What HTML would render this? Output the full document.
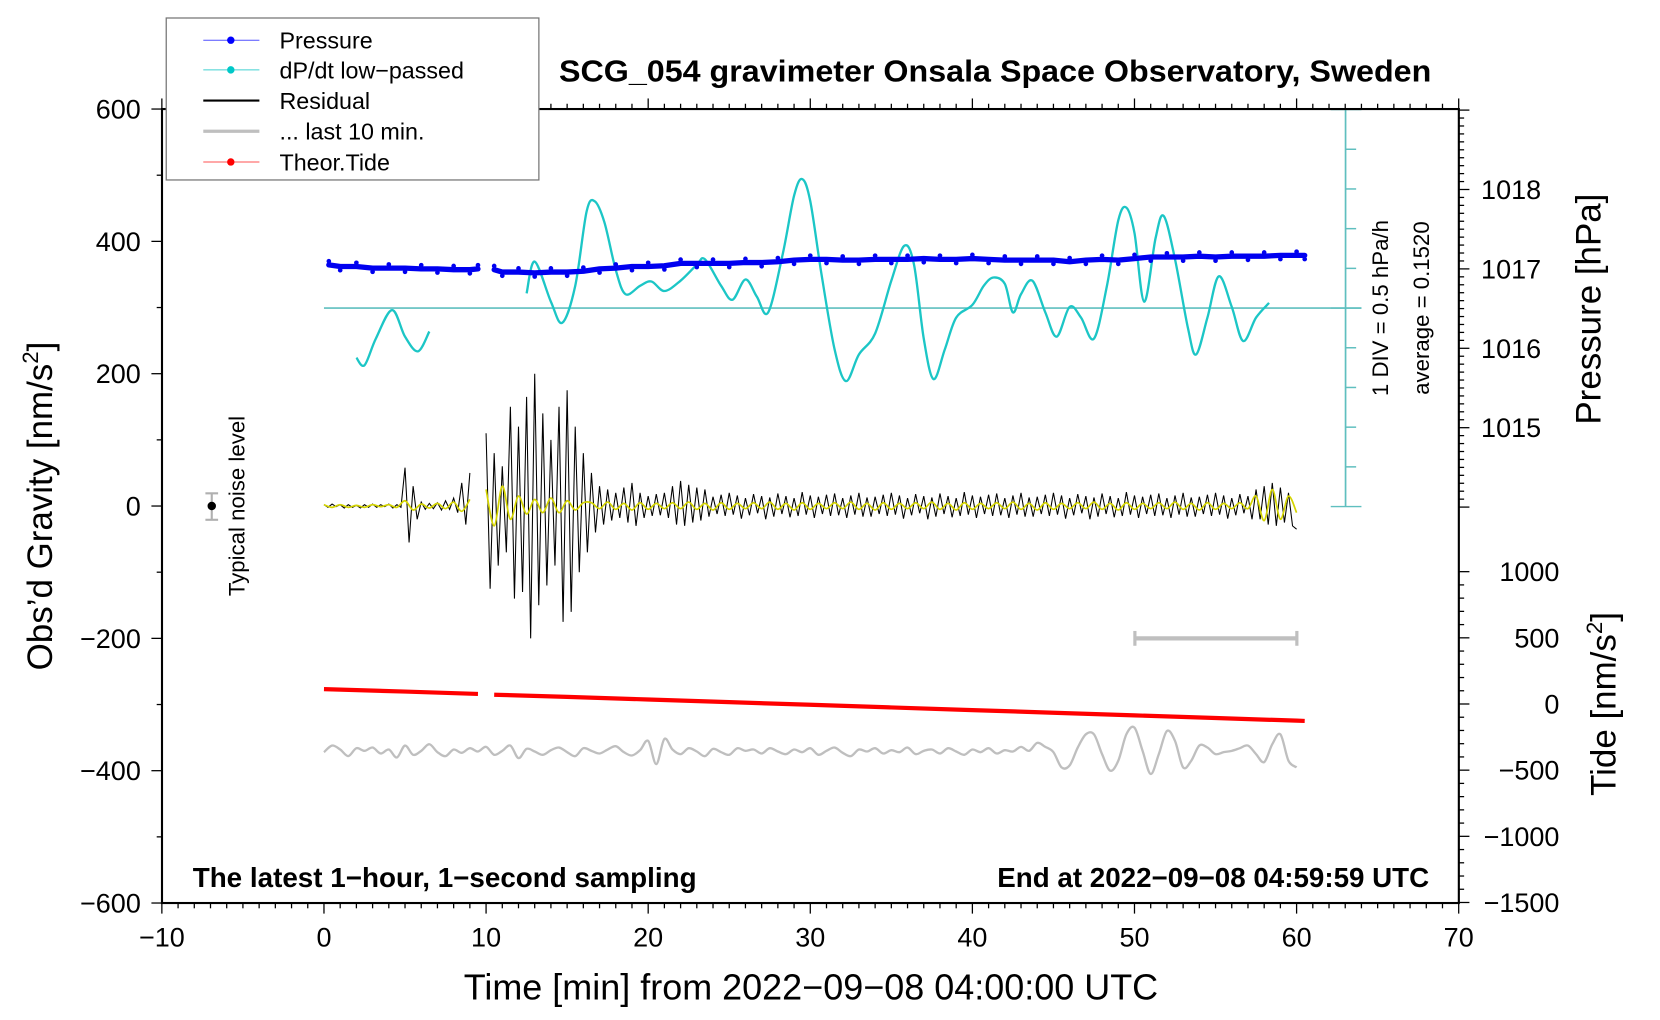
<!DOCTYPE html>
<html><head><meta charset="utf-8"><style>
html,body{margin:0;padding:0;background:#fff;}
svg{display:block;font-family:"Liberation Sans",Arial,sans-serif;}
</style></head><body>
<svg id="chart" xmlns="http://www.w3.org/2000/svg" width="1660" height="1020" viewBox="0 0 1568 963.5">
<rect x="0" y="0" width="1568" height="963.5" fill="#fff"/>
<g id="marks"></g>
<g id="axes"></g>
</svg>
<script>
// ---- data ----
const pressureTimes1 = [0.3,1,2,3,4,5,6,7,8,9,9.5];
const pressureValues1 = [1017.05,1017.03,1017.03,1017.01,1017.01,1017.01,1017.00,1017.00,1016.99,1016.99,1017.00];
const pressureTimes2 = [10.5,11,12,13,14,15,16,17,18,19,20,21,22,23,24,25,26,27,28,29,30,31,32,33,34,35,36,37,38,39,40,41,42,43,44,45,46,47,48,49,50,51,52,53,54,55,56,57,58,59,60,60.5];
const pressureValues2 = [1016.99,1016.96,1016.96,1016.95,1016.96,1016.96,1016.97,1017.00,1017.01,1017.03,1017.03,1017.04,1017.07,1017.07,1017.07,1017.07,1017.08,1017.08,1017.09,1017.11,1017.12,1017.12,1017.11,1017.11,1017.12,1017.12,1017.12,1017.13,1017.12,1017.12,1017.13,1017.12,1017.11,1017.11,1017.11,1017.11,1017.09,1017.11,1017.12,1017.11,1017.13,1017.15,1017.15,1017.15,1017.16,1017.15,1017.16,1017.16,1017.16,1017.17,1017.17,1017.17];
const dpdtTimes1 = [2.0,2.5,3.2,4.2,5.0,5.8,6.5];
const dpdtDiv1 = [-1.25,-1.44,-0.77,-0.05,-0.72,-1.09,-0.59];
const dpdtTimes2 = [12.5,13.0,14.0,14.7,15.5,16.2,16.7,17.3,18.0,18.6,19.5,20.2,21.0,22.0,23.0,23.5,24.5,25.2,26.0,26.7,27.4,28.3,29.0,29.5,30.0,30.7,31.5,32.2,33.0,34.0,35.0,35.8,36.4,37.0,37.6,38.3,39.0,40.0,40.7,41.3,42.0,42.5,43.0,43.7,44.5,45.2,46.0,46.7,47.5,48.3,49.0,49.5,50.0,50.6,51.3,51.8,52.5,53.3,53.8,54.5,55.2,56.0,56.7,57.5,58.3];
const dpdtDiv2 = [0.37,1.17,0.16,-0.37,0.56,2.43,2.69,2.16,0.96,0.35,0.56,0.67,0.43,0.69,1.09,1.23,0.56,0.21,0.72,0.29,-0.11,1.36,2.83,3.25,2.69,0.83,-1.04,-1.84,-1.17,-0.64,0.69,1.57,1.09,-0.77,-1.79,-1.04,-0.24,0.08,0.56,0.77,0.61,-0.11,0.35,0.69,-0.11,-0.72,0.03,-0.24,-0.77,0.56,2.21,2.53,1.89,0.16,1.76,2.32,1.23,-0.51,-1.17,-0.24,0.80,0.03,-0.83,-0.24,0.13];
// residual sampled every 0.25 min from 0 to 60 (null = gap)
const residual = [2,-2,3,-1,2,-3,2,-2,1,-3,2,-2,3,-2,2,-1,3,-3,2,-2,
58,-55,30,-20,
6,-5,4,-4,5,-6,8,-5,12,-10,
35,-28,50,
null,null,null,
110,-125,80,-90,60,-70,150,-140,120,-130,165,-200,200,-150,140,-120,100,-90,150,-175,175,-160,120,-100,80,-70,50,-40,
30,-28,25,-22,20,-18,28,-25,
35,-30,20,-18,15,-15,18,-14,20,-18,
30,-28,38,-30,32,-25,28,-22,25,
-16,14,-12,17,-15,20,-13,16,-19,12,-14,18,-11,15,-20,13,-16,19,-12,15,-17,12,-15,21,-13,16,-18,14,-12,17,-15,19,-14,12,-18,16,-13,20,-16,13,
-16,14,-12,17,-15,20,-13,16,-19,12,-14,18,-11,15,-20,13,-16,19,-12,15,-17,12,-15,21,-13,16,-18,14,-12,17,-15,19,-14,12,-18,16,-13,20,-16,13,
-16,14,-12,17,-15,20,-13,16,-19,12,-14,18,-11,15,-20,13,-16,19,-12,15,-17,12,-15,21,-13,16,-18,14,-12,17,-15,19,-14,12,-18,16,-13,20,-16,13,
-16,14,-12,17,-15,20,-13,16,-19,12,-14,18,-11,15,-20,
25,-20,30,-28,35,-30,28,-25,20,-30,-35];
// filtered (yellow) every 0.5 min
const filtered = [2,-2,2,-2,1,-2,2,-1,2,-2,
8,-6,
3,-3,4,-4,6,-8,10,
null,
25,-30,30,-20,
15,-12,10,-10,12,-10,8,-6,5,
5,-4,6,-5,4,-6,5,-5,4,-4,5,-4,6,-5,4,-6,5,-5,4,-4,5,-4,6,-5,4,-6,5,-5,4,-4,5,-4,6,-5,4,-6,5,-5,4,-4,
5,-4,6,-5,4,-6,5,-5,4,-4,5,-4,6,-5,4,-6,5,-5,4,-4,5,-4,6,-5,4,-6,5,-5,4,-4,5,-4,6,-5,4,-6,5,-5,4,-4,
5,-4,
15,-22,25,-20,15,-10];
// last 10 minutes (stretched to 0..60), every 0.5 min, nm/s^2
const last10 = [-372,-362,-368,-378,-366,-370,-365,-374,-368,-380,-362,-376,-370,-360,-372,-378,-368,-373,-366,-371,
-364,-376,-370,-362,-381,-367,-371,-376,-369,-365,-372,-378,-366,-370,-374,-368,-363,-372,-377,-369,
-355,-390,-352,-368,-375,-366,-371,-378,-367,-372,-376,-366,-370,-368,-374,-366,-371,-375,-368,-372,
-366,-376,-370,-365,-373,-378,-368,-371,-366,-374,-369,-372,-365,-375,-370,-368,-374,-366,-371,-376,
-368,-372,-366,-374,-369,-371,-364,-370,
-358,-364,-372,-395,-392,-365,-345,-345,-375,-400,-385,-345,-335,-370,-405,-375,-340,-355,-395,-385,-362,-365,-375,-372,-370,-366,-362,-375,-387,-360,-345,-385,-395];
const tideTimes1 = [0,5,9.5];
const tideValues1 = [112,94,76];
const tideTimes2 = [10.5,15,20,25,30,35,40,45,50,55,60,60.5];
const tideValues2 = [70,54,34,14,-6,-26,-46,-66,-86,-106,-126,-128];
const xTicks = [-10,0,10,20,30,40,50,60,70];
const yTicks = [-600,-400,-200,0,200,400,600];
const pTicks = [1015,1016,1017,1018];
const tTicks = [-1500,-1000,-500,0,500,1000];

// ---- scales ----
const X = m => 306 + m*15.3125;
const YL = v => 478 - v*0.625;
const YP = p => 254 - (p-1017)*75;
const YT = t => 665 - t*0.125;
const YD = d => 291 - d*37.5;
const NS = "http://www.w3.org/2000/svg";
const marks = document.getElementById('marks');
const axes = document.getElementById('axes');
function mk(tag, attrs, parent, text){
  const e = document.createElementNS(NS, tag);
  for (const k in attrs) e.setAttribute(k, attrs[k]);
  if (text !== undefined) e.textContent = text;
  parent.appendChild(e);
  return e;
}
function smooth(pts){
  let d = `M${pts[0][0]},${pts[0][1]}`;
  for (let i=0;i<pts.length-1;i++){
    const p0=pts[Math.max(0,i-1)], p1=pts[i], p2=pts[i+1], p3=pts[Math.min(pts.length-1,i+2)];
    const c1=[p1[0]+(p2[0]-p0[0])/6, p1[1]+(p2[1]-p0[1])/6];
    const c2=[p2[0]-(p3[0]-p1[0])/6, p2[1]-(p3[1]-p1[1])/6];
    d += ` C${c1[0]},${c1[1]} ${c2[0]},${c2[1]} ${p2[0]},${p2[1]}`;
  }
  return d;
}
function segPaths(values, step, yf){
  const segs=[]; let cur=[];
  values.forEach((v,i)=>{ if(v===null){ if(cur.length) segs.push(cur); cur=[]; } else cur.push([X(i*step), yf(v)]); });
  if(cur.length) segs.push(cur);
  return segs;
}

// cyan DIV axis
const divAxis = mk('g', {}, marks);


mk('line', {x1:X(0), y1:291, x2:1286, y2:291, stroke:'#5fbfbf', 'stroke-width':1.6}, divAxis);
mk('line', {x1:1271, y1:103, x2:1271, y2:478, stroke:'#5fbfbf', 'stroke-width':1.6}, divAxis);
for (let d=-5; d<=5; d++){
  const major = (d===-5||d===0||d===5);
  mk('line', {x1: major?1257:1271, y1:YD(d), x2: major?1286:1281, y2:YD(d), stroke:'#5fbfbf', 'stroke-width':1.4}, divAxis);
}
mk('text', {x:0, y:0, transform:'translate(1311,291) rotate(-90)', 'text-anchor':'middle', 'font-size':21}, divAxis, '1 DIV = 0.5 hPa/h');
mk('text', {x:0, y:0, transform:'translate(1350,291) rotate(-90)', 'text-anchor':'middle', 'font-size':21}, divAxis, 'average = 0.1520');

// dP/dt curve
[[dpdtTimes1,dpdtDiv1],[dpdtTimes2,dpdtDiv2]].forEach(([t,v])=>{
  const p = mk('path', {d: smooth(t.map((m,i)=>[X(m), YD(v[i])])), fill:'none', stroke:'#1cc6c6', 'stroke-width':2.2}, marks);
  
  
});

// pressure
[[pressureTimes1,pressureValues1],[pressureTimes2,pressureValues2]].forEach(([t,v])=>{
  const pl = mk('polyline', {points: t.map((m,i)=>`${X(m)},${YP(v[i])}`).join(' '), fill:'none', stroke:'#0000f0', 'stroke-width':5, 'stroke-linejoin':'round', 'stroke-linecap':'round'}, marks);
  
  
  t.forEach((m,i)=>{
    const c = mk('circle', {cx:X(m), cy:YP(v[i])+((i%2)?3.5:-3.5), r:2.2, fill:'#0000f0'}, marks);
    
    
  });
});

// residual (black)
segPaths(residual, 0.25, YL).forEach(seg=>{
  const pl = mk('polyline', {points: seg.map(p=>p.join(',')).join(' '), fill:'none', stroke:'#000', 'stroke-width':1.0}, marks);
  
  
});
// filtered (yellow)
segPaths(filtered, 0.5, YL).forEach(seg=>{
  const pl = mk('path', {d: smooth(seg), fill:'none', stroke:'#d4d400', 'stroke-width':1.6}, marks);
  
  
});
// last 10 min (gray)
segPaths(last10, 0.5, YL).forEach(seg=>{
  const pl = mk('path', {d: smooth(seg), fill:'none', stroke:'#bfbfbf', 'stroke-width':2.2}, marks);
  
  
});
// tide
[[tideTimes1,tideValues1],[tideTimes2,tideValues2]].forEach(([t,v])=>{
  const pl = mk('polyline', {points: t.map((m,i)=>`${X(m)},${YT(v[i])}`).join(' '), fill:'none', stroke:'#ff0000', 'stroke-width':4}, marks);
  
  
});

// ---- axes ----
mk('rect', {x:153, y:103, width:1225, height:750, fill:'none', stroke:'#000', 'stroke-width':2}, axes);
for (let m=-10; m<=70; m++){
  const major = m%10===0, L = major?10:5;
  mk('line', {x1:X(m), y1:853, x2:X(m), y2:853+L, stroke:'#000', 'stroke-width':1.2}, axes);
  mk('line', {x1:X(m), y1:103, x2:X(m), y2:103-L, stroke:'#000', 'stroke-width':1.2}, axes);
}
xTicks.forEach(m=>{
  const t = mk('text', {x:X(m), y:894, 'text-anchor':'middle', 'font-size':25.5}, axes, String(m).replace('-', '\u2212'));
  
  
});
for (let v=-600; v<=600; v+=100){
  const L = v%200===0?10:5;
  mk('line', {x1:153-L, y1:YL(v), x2:153, y2:YL(v), stroke:'#000', 'stroke-width':1.2}, axes);
}
yTicks.forEach(v=>{
  const t = mk('text', {x:133, y:YL(v)+9, 'text-anchor':'end', 'font-size':25.5}, axes, String(v).replace('-', '\u2212'));
  
  
});
for (let i=0; i<=50; i++){
  const p = 1014 + i*0.1, L = (i%10===0)?10:5;
  mk('line', {x1:1378, y1:YP(p), x2:1378+L, y2:YP(p), stroke:'#000', 'stroke-width':1.2}, axes);
}
pTicks.forEach(p=>{
  const t = mk('text', {x:1399, y:YP(p)+9, 'font-size':25.5}, axes, String(p));
  
  
});
for (let v=-1500; v<=1000; v+=100){
  const L = v%500===0?10:5;
  mk('line', {x1:1378, y1:YT(v), x2:1378+L, y2:YT(v), stroke:'#000', 'stroke-width':1.2}, axes);
}
tTicks.forEach(v=>{
  const t = mk('text', {x:1473, y:YT(v)+9, 'text-anchor':'end', 'font-size':25.5}, axes, String(v).replace('-', '\u2212'));
  
  
});
</script>
<script>
// static annotations
(function(){
  const svg = document.getElementById('chart');
  svg.insertAdjacentHTML('beforeend', `
  <text x="528" y="77" font-size="29" font-weight="bold" textLength="824" lengthAdjust="spacingAndGlyphs">SCG_054 gravimeter Onsala Space Observatory, Sweden</text>
  <text x="438" y="944" font-size="34" textLength="656" lengthAdjust="spacingAndGlyphs">Time [min] from 2022\u221209\u221208 04:00:00 UTC</text>
  <text transform="translate(49,478) rotate(-90)" text-anchor="middle" font-size="33">Obs’d Gravity [nm/s<tspan dy="-13" font-size="21">2</tspan><tspan dy="13">]</tspan></text>
  <text transform="translate(1512,292) rotate(-90)" text-anchor="middle" font-size="33">Pressure [hPa]</text>
  <text transform="translate(1526,665) rotate(-90)" text-anchor="middle" font-size="33">Tide [nm/s<tspan dy="-13" font-size="21">2</tspan><tspan dy="13">]</tspan></text>
  <text x="182" y="838" font-size="26" font-weight="bold" textLength="476" lengthAdjust="spacingAndGlyphs">The latest 1\u2212hour, 1\u2212second sampling</text>
  <text x="942" y="838" font-size="26" font-weight="bold" textLength="408" lengthAdjust="spacingAndGlyphs">End at 2022\u221209\u221208 04:59:59 UTC</text>
  <g>
    <line x1="200" y1="466" x2="200" y2="491" stroke="#b0b0b0" stroke-width="2"/>
    <line x1="194" y1="466" x2="206" y2="466" stroke="#b0b0b0" stroke-width="2"/>
    <line x1="194" y1="491" x2="206" y2="491" stroke="#b0b0b0" stroke-width="2"/>
    <circle cx="200" cy="478" r="4" fill="#000"/>
    <text transform="translate(231,478) rotate(-90)" text-anchor="middle" font-size="21">Typical noise level</text>
  </g>
  <g>
    <line x1="1072" y1="603" x2="1225" y2="603" stroke="#bfbfbf" stroke-width="4"/>
    <line x1="1072" y1="596" x2="1072" y2="610" stroke="#bfbfbf" stroke-width="3"/>
    <line x1="1225" y1="596" x2="1225" y2="610" stroke="#bfbfbf" stroke-width="3"/>
  </g>
  <g>
    <rect x="157" y="17" width="352" height="153" fill="#fff" stroke="#777" stroke-width="1.2"/>
    <g><line x1="192" y1="38" x2="245" y2="38" stroke="#5050ff" stroke-width="1"/><circle cx="218" cy="38" r="3.5" fill="#0000ff"/><text x="264" y="46" font-size="22">Pressure</text></g>
    <g><line x1="192" y1="66" x2="245" y2="66" stroke="#40d0d0" stroke-width="1"/><circle cx="218" cy="66" r="3.5" fill="#00c8c8"/><text x="264" y="74" font-size="22">dP/dt low\u2212passed</text></g>
    <g><line x1="192" y1="95" x2="245" y2="95" stroke="#000" stroke-width="2"/><text x="264" y="103" font-size="22">Residual</text></g>
    <g><line x1="192" y1="124" x2="245" y2="124" stroke="#bfbfbf" stroke-width="3"/><text x="264" y="132" font-size="22">... last 10 min.</text></g>
    <g><line x1="192" y1="153" x2="245" y2="153" stroke="#ff5050" stroke-width="1"/><circle cx="218" cy="153" r="3.5" fill="#ff0000"/><text x="264" y="161" font-size="22">Theor.Tide</text></g>
  </g>`);
})();
</script>
</body></html>
